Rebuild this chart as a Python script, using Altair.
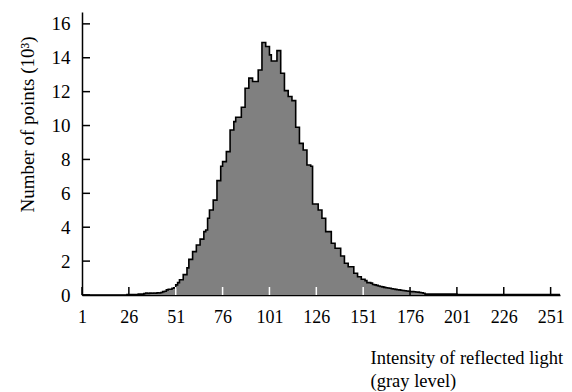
import altair as alt
import pandas as pd

# gray levels 1..256 and histogram counts (thousands of points)
levels = list(range(1, 257))
counts = [
    0, 0, 0, 0, 0, 0, 0, 0, 0, 0, 0, 0, 0, 0, 0, 0,
    0, 0, 0, 0, 0, 0, 0, 0, 0.02, 0.02, 0.02, 0.02, 0.02, 0.02, 0.05, 0.05,
    0.05, 0.08, 0.12, 0.09, 0.11, 0.1, 0.12, 0.1, 0.13, 0.12, 0.15, 0.2, 0.22, 0.3, 0.34, 0.34,
    0.4, 0.43, 0.6, 0.73, 0.9, 0.9, 1.2, 1.2, 1.6, 2.1, 2.1, 2.56, 2.56, 2.95, 2.95, 3.3,
    3.3, 3.74, 3.84, 4.53, 5.02, 5.02, 5.6, 5.6, 6.75, 6.75, 7.6, 7.87, 7.87, 8.46, 8.46, 9.74,
    9.74, 10.23, 10.49, 10.49, 10.49, 11.08, 11.08, 12.2, 12.2, 12.8, 12.8, 12.6, 12.6, 12.6, 13.28, 13.28,
    14.9, 14.9, 14.66, 14.66, 14.17, 13.81, 13.81, 13.81, 14.42, 14.42, 13.09, 13.09, 12.06, 12.06, 11.71, 11.71,
    11.47, 11.47, 9.9, 9.9, 8.95, 8.95, 8.56, 8.56, 7.67, 7.67, 7.6, 5.37, 5.37, 5.37, 5.02, 5.02,
    4.53, 4.53, 3.74, 3.74, 3.74, 3.05, 3.05, 2.76, 2.76, 2.76, 2.3, 2.3, 1.87, 1.87, 1.67, 1.67,
    1.67, 1.28, 1.28, 1.08, 1.08, 0.93, 0.93, 0.85, 0.73, 0.73, 0.7, 0.62, 0.6, 0.57, 0.53, 0.5,
    0.48, 0.45, 0.43, 0.41, 0.4, 0.37, 0.35, 0.33, 0.31, 0.3, 0.28, 0.27, 0.25, 0.24, 0.22, 0.21,
    0.2, 0.19, 0.18, 0.17, 0.15, 0.13, 0.1, 0.05, 0.05, 0.05, 0.05, 0.05, 0.05, 0.05, 0.05, 0.05,
    0.05, 0.05, 0.05, 0.05, 0.05, 0.05, 0.05, 0.05, 0.02, 0.02, 0.02, 0.02, 0.02, 0.02, 0.02, 0.02,
    0.02, 0.02, 0.02, 0.02, 0.02, 0.02, 0.02, 0.02, 0.02, 0.02, 0.02, 0.02, 0.02, 0.02, 0.02, 0.02,
    0.02, 0.02, 0.02, 0.02, 0.02, 0.02, 0.02, 0.02, 0.02, 0.02, 0.02, 0.02, 0.02, 0.02, 0.02, 0.02,
    0.02, 0.02, 0.02, 0.02, 0.02, 0.02, 0.02, 0.02, 0.02, 0.02, 0.02, 0.02, 0.02, 0.02, 0.02, 0.02,
]
assert len(counts) == len(levels)

x_ticks = [1, 26, 51, 76, 101, 126, 151, 176, 201, 226, 251]
y_ticks = [0, 2, 4, 6, 8, 10, 12, 14, 16]

FONT = "Liberation Serif"
W, H = 478, 283

hist = pd.DataFrame({"level": levels, "count": counts})
xt = pd.DataFrame({
    "level": x_ticks,
    "count": [0] * len(x_ticks),
    "col": ["white" if counts[v - 1] > 0.5 else "black" for v in x_ticks],
})
yt = pd.DataFrame({"level": [1] * len(y_ticks), "count": y_ticks})

xscale = alt.Scale(domain=[1, 256], nice=False, zero=False)
yscale = alt.Scale(domain=[0, 16.7], nice=False, zero=True)

xaxis = alt.Axis(
    values=x_ticks, ticks=False, grid=False, domainColor="black", domainWidth=1.5,
    labelFont=FONT, labelFontSize=18, labelColor="black", labelPadding=13,
    labelFlush=False,
    title=["Intensity of reflected light", "(gray level)"],
    titleFont=FONT, titleFontSize=18.5, titleFontWeight="normal", titleColor="black",
    titleAlign="left", titleAnchor="start", titleBaseline="alphabetic",
    titleX=288, titleY=68, titleLineHeight=23,
)
yaxis = alt.Axis(
    values=y_ticks, ticks=False, grid=False, domainColor="black", domainWidth=1.5,
    labelFont=FONT, labelFontSize=19, labelColor="black", labelPadding=12,
    title="Number of points (10³)",
    titleFont=FONT, titleFontSize=19, titleFontWeight="normal", titleColor="black",
    titleAngle=270, titleBaseline="alphabetic", titleAlign="center",
    titleX=-49, titleY=112,
)

X = alt.X("level:Q", scale=xscale, axis=xaxis)
Y = alt.Y("count:Q", scale=yscale, axis=yaxis)

area = alt.Chart(hist).mark_area(
    interpolate="step-after", color="#808080", clip=True
).encode(x=X, y=Y)

line = alt.Chart(hist).mark_line(
    interpolate="step-after", color="black", strokeWidth=1.6, clip=True
).encode(x=X, y=Y)

xtick_marks = alt.Chart(xt).mark_rule(strokeWidth=1.5).encode(
    x=X,
    y=alt.value(H),
    y2=alt.value(H - 8),
    color=alt.Color("col:N", scale=None),
)

ytick_marks = alt.Chart(yt).mark_rule(strokeWidth=1.5, color="black").encode(
    y=Y,
    x=alt.value(0),
    x2=alt.value(8),
)

chart = alt.layer(area, line, xtick_marks, ytick_marks).properties(
    width=W, height=H,
    autosize=alt.AutoSizeParams(type="none"),
    padding={"left": 82, "top": 12, "right": 12, "bottom": 97},
    background="white",
).configure_view(stroke=None)

chart.save("out.html", embed_options={"renderer": "svg", "actions": False})
